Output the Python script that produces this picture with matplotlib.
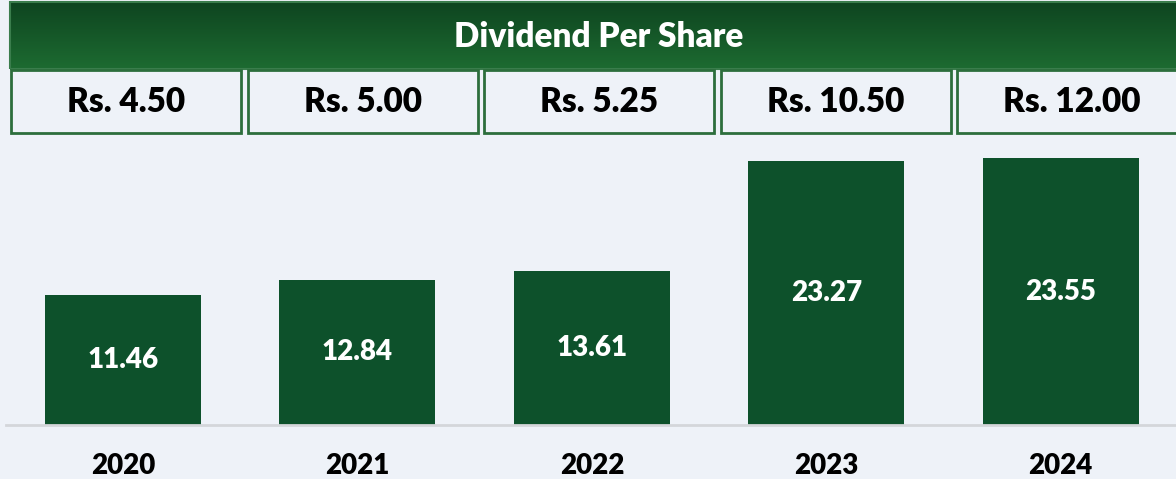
import numpy as np
import matplotlib.pyplot as plt
from matplotlib.patches import Rectangle
from matplotlib.colors import LinearSegmentedColormap

years = ['2020', '2021', '2022', '2023', '2024']
bar_values = [11.46, 12.84, 13.61, 23.27, 23.55]
dividends = ['Rs. 4.50', 'Rs. 5.00', 'Rs. 5.25', 'Rs. 10.50', 'Rs. 12.00']
title = 'Dividend Per Share'

BG = '#eef2f8'
BAR = '#0d512b'
BORDER = '#2c6e3c'
WEIGHT = 'heavy'

plt.rcParams['font.family'] = ['Lato', 'DejaVu Sans']

W, H = 1176, 479
fig = plt.figure(figsize=(W / 100, H / 100), dpi=100)
fig.set_facecolor(BG)


def fx(px):
    return px / W


def fy(py):
    # py measured from the top of the picture
    return 1 - py / H


# bar area
ax = fig.add_axes([fx(5.75), fy(425), fx(1172.25), (425 - 140) / H])
ax.set_facecolor(BG)
x = np.arange(len(years))
bars = ax.bar(x, bar_values, width=0.665, color=BAR, zorder=2)
ax.set_xlim(-0.5, len(years) - 0.5)
ax.set_ylim(0, 285 / 11.33)
for b, v in zip(bars, bar_values):
    ax.text(b.get_x() + b.get_width() / 2, v / 2, f'{v:.2f}', ha='center', va='center',
            color='white', fontsize=20, fontweight=WEIGHT)
ax.set_xticks(x)
ax.set_xticklabels(years, fontsize=20, fontweight=WEIGHT, color='black')
ax.tick_params(axis='x', length=0, pad=20)
ax.set_yticks([])
for s in ['top', 'right', 'left']:
    ax.spines[s].set_visible(False)
ax.spines['bottom'].set_color('#d4d6da')
ax.spines['bottom'].set_linewidth(2)

# header banner with vertical gradient
hax = fig.add_axes([fx(10), fy(69), fx(1170), 67 / H])
grad = np.linspace(0, 1, 100).reshape(-1, 1)
cmap = LinearSegmentedColormap.from_list('hdr', ['#0e4520', '#1d6b31'])
hax.imshow(grad, aspect='auto', cmap=cmap, extent=[0, 1, 0, 1], origin='upper')
hax.set_xlim(0, 1)
hax.set_ylim(0, 1)
hax.axis('off')
fig.add_artist(Rectangle((fx(10), fy(69)), fx(1170), 67 / H, transform=fig.transFigure,
                         fill=False, edgecolor='#3a7d4c', linewidth=1.5))
fig.text(fx(599), fy(37), title, ha='center', va='center', color='white',
         fontsize=24, fontweight=WEIGHT)

# dividend boxes
for i, d in enumerate(dividends):
    left = 11 + 236.5 * i
    fig.add_artist(Rectangle((fx(left), fy(133)), fx(230), 63 / H, transform=fig.transFigure,
                             facecolor=BG, edgecolor=BORDER, linewidth=2))
    fig.text(fx(left + 115), fy(102), d, ha='center', va='center', color='black',
             fontsize=24, fontweight=WEIGHT)

fig.savefig('out.png', dpi=100, facecolor=BG)
